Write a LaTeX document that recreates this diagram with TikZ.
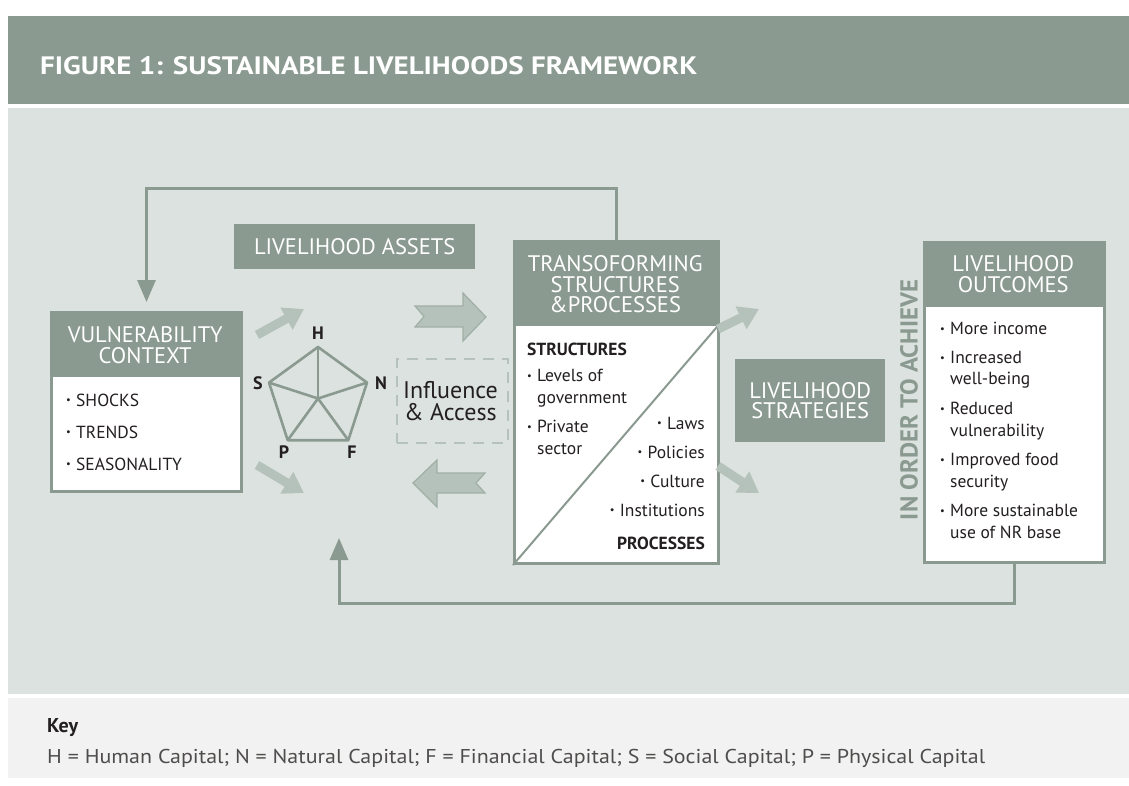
\documentclass[tikz,border=0pt]{standalone}
\usepackage{fontspec}
\usepackage{graphicx}
\setmainfont{PT Sans}
\usetikzlibrary{arrows.meta,calc}
\definecolor{dk}{RGB}{138,154,144}
\definecolor{panel}{RGB}{220,226,223}
\definecolor{lt}{RGB}{181,194,187}
\definecolor{ltline}{RGB}{160,175,166}
\definecolor{keybg}{RGB}{241,242,241}
\definecolor{ink}{RGB}{35,31,32}
\newcommand\bul{\raisebox{0.28ex}{\scalebox{0.6}{\textbullet}}\hspace{0.3em}}
\newcommand\fitw[2]{\resizebox{#1}{\height}{#2}}
\tikzset{
  frame/.style={draw=dk, line width=3pt, fill=white, anchor=north west, inner sep=0pt},
  hdrbox/.style={fill=dk, anchor=north west, inner sep=0pt},
  hdrtext/.style={text=white, align=center, font=\fontsize{22.5}{20.8}\selectfont, inner sep=0pt},
  bodytext/.style={text=ink, font=\fontsize{17.5}{21.5}\selectfont, inner sep=0pt, align=left},
  pentlabel/.style={text=ink, font=\fontsize{18}{18}\selectfont\bfseries, inner sep=0pt},
  fb/.style={draw=dk, line width=3pt, -{Triangle[width=18pt,length=22pt]}},
  ltarrow/.style={draw=lt, line width=9pt, -{Triangle[width=24pt,length=20pt]}},
  chev/.style={fill=lt, draw=ltline, line width=1.2pt, line join=miter}
}
\begin{document}
\begin{tikzpicture}[x=1pt,y=-1pt]
\useasboundingbox (0,0) rectangle (1129,785);
\fill[white] (0,0) rectangle (1129,785);
\fill[dk] (8,16) rectangle (1129,104);
\fill[panel] (8,108) rectangle (1129,694);
\fill[keybg] (8,698) rectangle (1129,778);

% title
\node[anchor=west, text=white, inner sep=0pt, font=\fontsize{25}{25}\selectfont\bfseries] (title) at (40,66)
  {\resizebox{657pt}{18pt}{FIGURE 1: SUSTAINABLE LIVELIHOODS FRAMEWORK}};

% vulnerability context
\node[frame, minimum width=190, minimum height=179] (vc) at (50,311) {};
\node[hdrbox, minimum width=190, minimum height=66] (vch) at (50,311) {};
\node[hdrtext] (vct) at ($(vch.center)+(0,1)$) {VULNERABILITY\\CONTEXT};
\node[bodytext, anchor=west] (v1) at (66,400) {\bul SHOCKS};
\node[bodytext, anchor=west] (v2) at (66,432) {\bul TRENDS};
\node[bodytext, anchor=west] (v3) at (66,464) {\bul SEASONALITY};

% livelihood assets
\node[hdrbox, minimum width=241, minimum height=45] (la) at (234,224) {};
\node[hdrtext] (lat) at (la.center) {LIVELIHOOD ASSETS};

% pentagon
\coordinate (O) at (318,398.5);
\coordinate (H) at (318,347);
\coordinate (N) at (367,382.6);
\coordinate (F) at (348.3,440.2);
\coordinate (P) at (287.7,440.2);
\coordinate (S) at (269,382.6);
\draw[dk, line width=2.6pt, line join=round] (H) -- (N) -- (F) -- (P) -- (S) -- cycle;
\foreach \v in {H,N,F,P,S} \draw[dk, line width=2.6pt] (O) -- (\v);
\node[pentlabel] (lH) at (318,333) {H};
\node[pentlabel] (lN) at (381,383) {N};
\node[pentlabel] (lF) at (352,452) {F};
\node[pentlabel] (lP) at (284,452) {P};
\node[pentlabel] (lS) at (258,383) {S};

% light arrows around pentagon
\coordinate (a1s) at (257,335); \coordinate (a1e) at (304,309);
\coordinate (a2s) at (257,465); \coordinate (a2e) at (304,493);
\draw[ltarrow] (a1s) -- (a1e);
\draw[ltarrow] (a2s) -- (a2e);

% chevron arrows
\draw[chev] (415,306) -- (463,306) -- (463,293) -- (486,317) -- (463,341) -- (463,327) -- (415,327) -- (424,316.5) -- cycle;
\draw[chev] (413,483) -- (437,460) -- (437,473) -- (485,473) -- (476,483) -- (485,493) -- (437,493) -- (437,507) -- cycle;

% influence & access
\node[draw=lt, line width=2pt, dash pattern=on 11pt off 8pt, minimum width=111, minimum height=84, inner sep=0pt] (ia) at (452.5,401) {};
\node[text=ink, align=center, font=\fontsize{24}{22}\selectfont, inner sep=0pt] (iat) at ($(ia.center)+(-2,0)$) {Influence\\\& Access};

% transforming structures
\node[frame, minimum width=204, minimum height=322] (ts) at (513,240) {};
\node[hdrbox, minimum width=204, minimum height=86] (tsh) at (513,240) {};
\node[hdrtext] (tst) at ($(tsh.center)+(0,1)$) {TRANSOFORMING\\STRUCTURES\\\&PROCESSES};
\draw[dk, line width=2pt] (ts.south west) -- (tsh.south east);
\node[bodytext, anchor=west, font=\fontsize{17.5}{21.5}\selectfont\bfseries] (st) at (527,349) {STRUCTURES};
\node[bodytext, anchor=north west] (st1) at (527,369) {\bul Levels of\\\phantom{\bul}government};
\node[bodytext, anchor=north west] (st2) at (527,420) {\bul Private\\\phantom{\bul}sector};
\node[bodytext, anchor=east] (p1) at (705,423) {\bul Laws};
\node[bodytext, anchor=east] (p2) at (705,452) {\bul Policies};
\node[bodytext, anchor=east] (p3) at (705,481) {\bul Culture};
\node[bodytext, anchor=east] (p4) at (705,510) {\bul Institutions};
\node[bodytext, anchor=east, font=\fontsize{17.5}{21.5}\selectfont\bfseries] (pr) at (705,543) {PROCESSES};

% light arrows from transforming box
\coordinate (b1s) at (718,329); \coordinate (b1e) at (759,309);
\coordinate (b2s) at (718,466); \coordinate (b2e) at (759,493);
\draw[ltarrow] (b1s) -- (b1e);
\draw[ltarrow] (b2s) -- (b2e);

% livelihood strategies
\node[hdrbox, minimum width=150, minimum height=83] (ls) at (735,359) {};
\node[hdrtext] (lst) at (ls.center) {LIVELIHOOD\\STRATEGIES};

% in order to achieve
\node[rotate=90, text=dk, inner sep=0pt, font=\fontsize{24}{24}\selectfont\bfseries] (ioa) at (909,400)
  {\resizebox{240pt}{17.5pt}{IN ORDER TO ACHIEVE}};

% livelihood outcomes
\node[frame, minimum width=180, minimum height=320] (lo) at (923,241) {};
\node[hdrbox, minimum width=180, minimum height=66] (loh) at (923,241) {};
\node[hdrtext] (lot) at ($(loh.center)+(0,0)$) {LIVELIHOOD\\OUTCOMES};
\node[bodytext, anchor=north west] (o1) at (940,322) {\bul More income};
\node[bodytext, anchor=north west] (o2) at (940,351) {\bul Increased\\\phantom{\bul}well-being};
\node[bodytext, anchor=north west] (o3) at (940,402) {\bul Reduced\\\phantom{\bul}vulnerability};
\node[bodytext, anchor=north west] (o4) at (940,453) {\bul Improved food\\\phantom{\bul}security};
\node[bodytext, anchor=north west] (o5) at (940,504) {\bul More sustainable\\\phantom{\bul}use of NR base};

% feedback lines
\coordinate (vctip) at ($(vc.north)+(0,-9)$);
\coordinate (bottip) at (339,538);
\draw[fb] (ts.north) -- ++(0,-52) -| (vctip);
\draw[fb] (lo.south) -- ++(0,39) -| (bottip);

% key
\node[anchor=west, text=ink, inner sep=0pt, font=\fontsize{20}{20}\selectfont\bfseries] (key) at (47,728) {Key};
\node[anchor=west, text=ink!80, inner sep=0pt, font=\fontsize{20}{20}\selectfont] (keyt) at (47,758)
  {\fitw{938pt}{H = Human Capital; N = Natural Capital; F = Financial Capital; S = Social Capital; P = Physical Capital}};
\end{tikzpicture}
\end{document}
